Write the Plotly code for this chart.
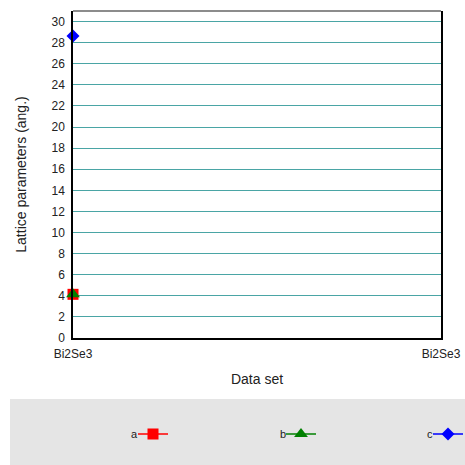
import plotly.graph_objects as go

categories = ["Bi2Se3"]
a_values = [4.14]
b_values = [4.14]
c_values = [28.64]
tick_labels = ["Bi2Se3", "Bi2Se3"]
series_names = ["a", "b", "c"]

x_pos = list(range(len(categories)))

W, H = 465, 465
L, R, T, B = 73, 24, 11, 127
PW, PH = W - L - R, H - T - B

fig = go.Figure()
styles = [
    ("red", "square", 11),
    ("green", "triangle-up", 12),
    ("blue", "diamond", 10),
]
legend_ids = ["legend", "legend2", "legend3"]
for name, vals, (col, sym, sz), lid in zip(series_names, [a_values, b_values, c_values], styles, legend_ids):
    fig.add_trace(go.Scatter(
        x=x_pos, y=vals, mode="lines+markers", name=" ",
        line=dict(color=col, width=1.5),
        marker=dict(color=col, symbol=sym, size=sz),
        cliponaxis=False, showlegend=True, legend=lid,
    ))

font = dict(family="Liberation Sans, Arial, sans-serif", size=12, color="#222")

def leg(cx):
    return dict(
        xref="container", yref="container",
        x=(cx - 20) / W, y=(H - 434) / H, xanchor="left", yanchor="middle",
        bgcolor="rgba(0,0,0,0)", font=dict(size=11), itemwidth=30,
        orientation="h",
    )

fig.update_layout(
    width=W, height=H,
    margin=dict(l=L, r=R, t=T, b=B, autoexpand=False),
    paper_bgcolor="white", plot_bgcolor="white",
    font=font,
    showlegend=True,
    legend=leg(153), legend2=leg(301), legend3=leg(448),
    xaxis=dict(
        range=[0, 1], tickvals=[0, 1], ticktext=tick_labels,
        showgrid=False, zeroline=False, showline=True,
        linecolor="black", linewidth=1.5, ticks="outside", ticklen=4,
        tickcolor="rgba(0,0,0,0)", automargin=False,
        title=dict(text="Data set", standoff=14),
    ),
    yaxis=dict(
        range=[0, 31], dtick=2, tick0=0,
        showgrid=True, gridcolor="#4aa5a5", gridwidth=1.4,
        zeroline=False, showline=True, linecolor="black", linewidth=1.5,
        mirror=True, ticks="outside", ticklen=4, tickcolor="rgba(0,0,0,0)",
        automargin=False,
        title=dict(text="Lattice parameters (ang.)", standoff=22),
    ),
    shapes=[
        dict(type="line", xref="paper", yref="paper", x0=0, x1=1, y0=1, y1=1,
             line=dict(color="#666", width=1.5), layer="above"),
        dict(type="rect", xref="paper", yref="paper",
             x0=(10 - L) / PW, x1=(465 - L) / PW,
             y0=-(465 - (T + PH)) / PH, y1=-(399 - (T + PH)) / PH,
             fillcolor="#e5e5e5", line=dict(width=0), layer="below"),
    ],
)

for name, xp in zip(series_names, [140, 288, 435]):
    fig.add_annotation(
        text=name, xref="paper", yref="paper",
        x=(xp - L) / PW, y=-(434 - (T + PH)) / PH,
        showarrow=False, xanchor="right", yanchor="middle",
        font=dict(size=11, color="#222"),
    )

fig.write_html(
    "out.html",
    config={"displayModeBar": False},
    post_script="document.body.style.margin='0';document.body.style.overflow='hidden';",
)
